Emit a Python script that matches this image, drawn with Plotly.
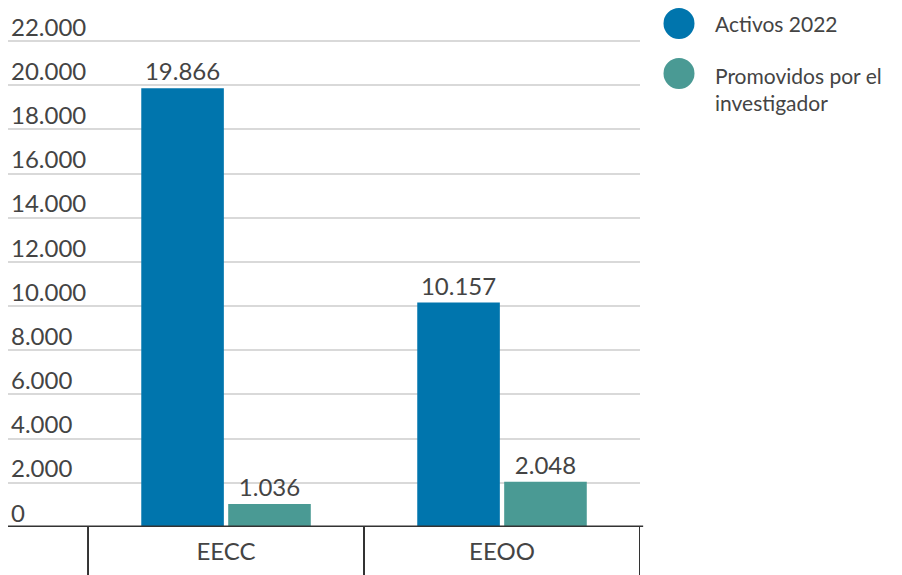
import plotly.graph_objects as go

categories = ["EECC", "EEOO"]
series_names = ["Activos 2022", "Promovidos por el investigador"]
activos_2022 = [19866, 10157]
promovidos = [1036, 2048]
y_tick_values = [0, 2000, 4000, 6000, 8000, 10000, 12000, 14000, 16000, 18000, 20000, 22000]
y_tick_labels = ["0", "2.000", "4.000", "6.000", "8.000", "10.000", "12.000", "14.000",
                 "16.000", "18.000", "20.000", "22.000"]

BLUE = "#0075ad"
TEAL = "#4a9a94"
TXT = "#444444"
FONT = "Lato"

# page has an 8px body margin; figure coordinates are page coordinates minus 8
W, H = 894, 567
ML, MR, MT, MB = 0, 262, 0, 48
PW, PH = W - ML - MR, H - MT - MB


def fmt(v):
    return f"{v:,}".replace(",", ".")


fig = go.Figure()
for name, vals, col in [(series_names[0], activos_2022, BLUE), (series_names[1], promovidos, TEAL)]:
    fig.add_trace(go.Bar(
        x=categories, y=vals, name=name, marker=dict(color=col, line=dict(width=0)),
        text=[fmt(v) for v in vals], textposition="outside", cliponaxis=False,
        textfont=dict(family=FONT, size=24, color=TXT), showlegend=False,
    ))

shapes = []
# category divider lines below the axis
for xv in [-0.5, 0.5, 1.5]:
    shapes.append(dict(type="line", xref="x", yref="paper", x0=xv, x1=xv, y0=0, y1=-MB / PH,
                       line=dict(color="#333333", width=2)))
# baseline
shapes.append(dict(type="line", xref="paper", yref="y", x0=0, x1=1.005, y0=0, y1=0,
                   line=dict(color="#333333", width=3)))

annotations = []
legend_items = [(series_names[0], BLUE, 15.5, 16), ("Promovidos por el<br>investigador", TEAL, 65.5, 81)]
for label, col, cy, ty in legend_items:
    shapes.append(dict(type="circle", xref="paper", yref="paper", xsizemode="pixel", ysizemode="pixel",
                       xanchor=(671 - ML) / PW, yanchor=(MT + PH - cy) / PH,
                       x0=-15.5, x1=15.5, y0=-15.5, y1=15.5, fillcolor=col, line=dict(width=0)))
    annotations.append(dict(xref="paper", yref="paper", x=(705 - ML) / PW, y=(MT + PH - ty) / PH,
                            xanchor="left", yanchor="middle", align="left", showarrow=False,
                            text=label, font=dict(family=FONT, size=21, color=TXT)))

fig.update_layout(
    width=W, height=H, margin=dict(l=ML, r=MR, t=MT, b=MB, autoexpand=False),
    paper_bgcolor="white", plot_bgcolor="white",
    barmode="group", bargap=0.37, bargroupgap=0.05,
    font=dict(family=FONT, color=TXT),
    shapes=shapes, annotations=annotations,
    xaxis=dict(type="category", range=[-0.79, 1.5], showgrid=False, zeroline=False, showline=False,
               automargin=False, ticks="", tickfont=dict(family=FONT, size=24, color=TXT),
               ticklabelstandoff=8),
    yaxis=dict(range=[0, 22000 * PH / 486], tickvals=y_tick_values, ticktext=y_tick_labels,
               ticklabelposition="inside top", ticklabelshift=3,
               showgrid=True, gridcolor="#d9d9d9", gridwidth=1.5,
               automargin=False, zeroline=False, showline=False, ticks="",
               tickfont=dict(family=FONT, size=24, color=TXT)),
)

fig.write_html("out.html")
